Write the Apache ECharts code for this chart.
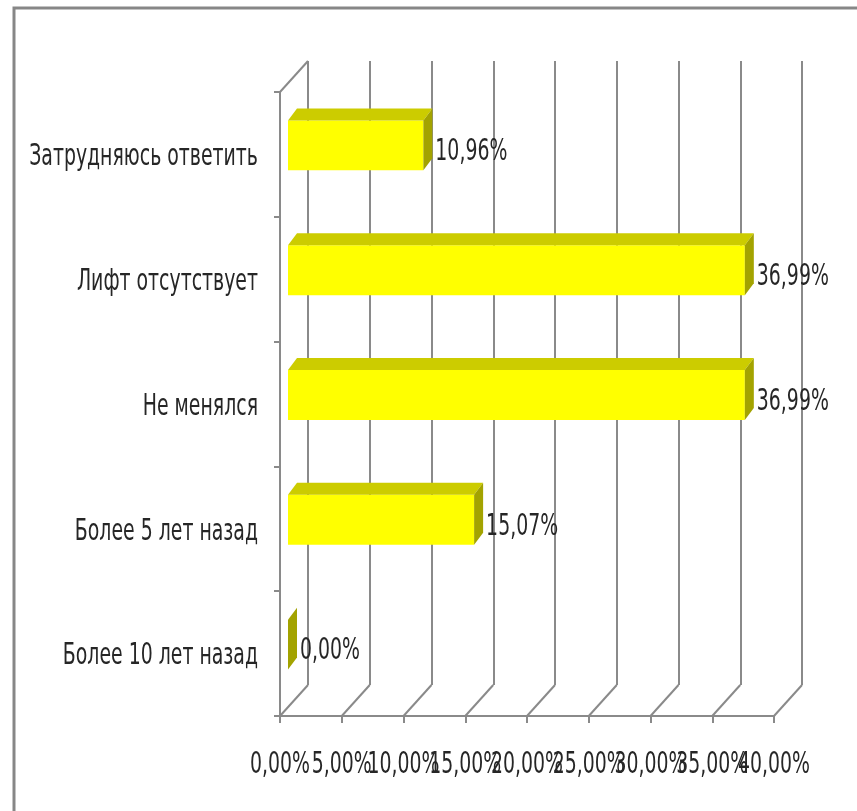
<!DOCTYPE html>
<html>
<head>
<meta charset="utf-8">
<script src="https://cdn.jsdelivr.net/npm/echarts@6/dist/echarts.min.js"></script>
<style>
  html, body { margin: 0; padding: 0; background: #ffffff; }
  #chart { width: 857px; height: 811px; }
</style>
</head>
<body>
<div id="chart"></div>
<script>
// Categories listed from the bottom of the chart to the top
const categories = ['Более 10 лет назад', 'Более 5 лет назад', 'Не менялся', 'Лифт отсутствует', 'Затрудняюсь ответить'];
const shares = [0.00, 15.07, 36.99, 36.99, 10.96];
const shareLabels = ['0,00%', '15,07%', '36,99%', '36,99%', '10,96%'];
const ticks = [0, 5, 10, 15, 20, 25, 30, 35, 40];
const tickLabels = ['0,00%', '5,00%', '10,00%', '15,00%', '20,00%', '25,00%', '30,00%', '35,00%', '40,00%'];

// Styling
const FONT = "'Liberation Sans Narrow', 'DejaVu Sans Condensed', 'Arial Narrow', sans-serif";
const FONT_SIZE = 21;
const TEXT_SCALE_Y = 1.42;
const TEXT_COLOR = '#262626';
const GRAY = '#8a8a8a';
const WALL = [28, -31];       // offset of the back wall from the front plane
const BAR_SHIFT = [8, -9];    // front face of the bars relative to the front plane
const BAR_DEPTH = [9, -12];   // thickness of the bars in depth
const BAR_FRACTION = 0.4;
const FRONT = { left: 280, right: 83, top: 92, bottom: 95 };
const BACK = {
  left: FRONT.left + WALL[0], right: FRONT.right - WALL[0],
  top: FRONT.top + WALL[1], bottom: FRONT.bottom - WALL[1]
};

function textEl(x, y, text, align) {
  return {
    type: 'text', x: x, y: y, scaleY: TEXT_SCALE_Y,
    style: {
      text: text, fill: TEXT_COLOR, fontSize: FONT_SIZE, fontFamily: FONT,
      align: align, verticalAlign: 'middle'
    }
  };
}

function renderBar(params, api) {
  const v = api.value(0), cat = api.value(1);
  const p0 = api.coord([0, cat]);
  const p1 = api.coord([v, cat]);
  const h = api.size([0, 1])[1] * BAR_FRACTION;
  const x0 = p0[0] + BAR_SHIFT[0], x1 = p1[0] + BAR_SHIFT[0];
  const yc = p0[1] + BAR_SHIFT[1];
  const yt = yc - h / 2, yb = yc + h / 2;
  const dx = BAR_DEPTH[0], dy = BAR_DEPTH[1];
  const children = [];
  if (x1 > x0) {
    children.push({ type: 'polygon', shape: { points: [[x0, yt], [x1, yt], [x1, yb], [x0, yb]] },
      style: { fill: '#ffff00' } });
    children.push({ type: 'polygon', shape: { points: [[x0, yt], [x1, yt], [x1 + dx, yt + dy], [x0 + dx, yt + dy]] },
      style: { fill: '#cccc00' } });
  }
  children.push({ type: 'polygon', shape: { points: [[x1, yt], [x1 + dx, yt + dy], [x1 + dx, yb + dy], [x1, yb]] },
    style: { fill: '#a3a300' } });
  children.push(textEl(x1 + dx + 3, yc + 7, shareLabels[params.dataIndex], 'left'));
  return { type: 'group', children: children };
}

function renderFloor(params, api) {
  const cs = params.coordSys;
  const x = api.coord([api.value(0), 0])[0];
  const bottom = cs.y + cs.height;
  const lines = [{ type: 'line', shape: { x1: x, y1: bottom, x2: x + WALL[0], y2: bottom + WALL[1] },
    style: { stroke: GRAY, lineWidth: 2 } }];
  if (params.dataIndex === 0) {
    lines.push({ type: 'line', shape: { x1: x, y1: cs.y, x2: x + WALL[0], y2: cs.y + WALL[1] },
      style: { stroke: GRAY, lineWidth: 2 } });
  }
  return { type: 'group', children: lines };
}

function renderTickLabel(params, api) {
  const cs = params.coordSys;
  const x = api.coord([api.value(0), 0])[0];
  return textEl(x, cs.y + cs.height + 49, tickLabels[params.dataIndex], 'center');
}

function renderCategoryLabel(params, api) {
  const p = api.coord([0, api.value(1)]);
  return textEl(p[0] - 22, p[1] + 3, categories[params.dataIndex], 'right');
}

const chart = echarts.init(document.getElementById('chart'), null, { renderer: 'canvas' });
chart.setOption({
  animation: false,
  backgroundColor: '#ffffff',
  graphic: [{
    type: 'rect', shape: { x: 14, y: 8, width: 900, height: 900 },
    style: { fill: 'none', stroke: '#878787', lineWidth: 3 }, silent: true
  }],
  grid: [
    { left: FRONT.left, right: FRONT.right, top: FRONT.top, bottom: FRONT.bottom },
    { left: BACK.left, right: BACK.right, top: BACK.top, bottom: BACK.bottom }
  ],
  xAxis: [
    {
      gridIndex: 0, type: 'value', min: 0, max: 40, interval: 5,
      axisLine: { show: true, onZero: false, lineStyle: { color: GRAY, width: 2 } },
      axisTick: { show: true, length: 7, lineStyle: { color: GRAY, width: 2 } },
      axisLabel: { show: false }, splitLine: { show: false }
    },
    {
      gridIndex: 1, type: 'value', min: 0, max: 40, interval: 5,
      axisLine: { show: false }, axisTick: { show: false }, axisLabel: { show: false },
      splitLine: { show: true, lineStyle: { color: GRAY, width: 2 } }
    }
  ],
  yAxis: [
    {
      gridIndex: 0, type: 'category', data: categories,
      axisLine: { show: true, onZero: false, lineStyle: { color: GRAY, width: 2 } },
      axisTick: { show: true, length: 6, lineStyle: { color: GRAY, width: 2 } },
      axisLabel: { show: false }, splitLine: { show: false }
    },
    {
      gridIndex: 1, type: 'category', data: categories,
      axisLine: { show: false }, axisTick: { show: false }, axisLabel: { show: false },
      splitLine: { show: false }
    }
  ],
  series: [
    {
      type: 'custom', xAxisIndex: 0, yAxisIndex: 0, silent: true, clip: false,
      renderItem: renderFloor, data: ticks.map(function (v) { return [v, 0]; })
    },
    {
      type: 'custom', xAxisIndex: 0, yAxisIndex: 0, silent: true, clip: false,
      renderItem: renderBar, data: shares.map(function (v, i) { return [v, i]; })
    },
    {
      type: 'custom', xAxisIndex: 0, yAxisIndex: 0, silent: true, clip: false,
      renderItem: renderTickLabel, data: ticks.map(function (v) { return [v, 0]; })
    },
    {
      type: 'custom', xAxisIndex: 0, yAxisIndex: 0, silent: true, clip: false,
      renderItem: renderCategoryLabel, data: categories.map(function (c, i) { return [0, i]; })
    }
  ]
});
</script>
</body>
</html>
